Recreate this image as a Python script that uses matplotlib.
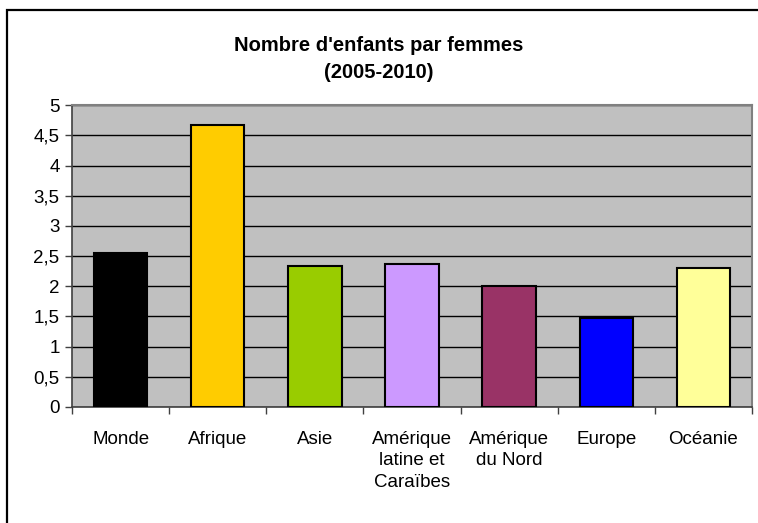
import matplotlib.pyplot as plt
from matplotlib.patches import Rectangle

regions = ["Monde", "Afrique", "Asie", "Amérique\nlatine et\nCaraïbes",
           "Amérique\ndu Nord", "Europe", "Océanie"]
children = [2.56, 4.67, 2.34, 2.37, 2.00, 1.47, 2.31]
colors = ["#000000", "#FFCC00", "#99CC00", "#CC99FF", "#993366", "#0000FF", "#FFFF99"]
y_ticks = [0, 0.5, 1, 1.5, 2, 2.5, 3, 3.5, 4, 4.5, 5]

plt.rcParams['font.family'] = ['Liberation Sans', 'DejaVu Sans']

fig = plt.figure(figsize=(7.58, 5.23), dpi=100)
ax = fig.add_axes([0.095, 0.2218, 0.897, 0.5769])
ax.set_facecolor("#C0C0C0")

x = list(range(len(regions)))
ax.bar(x, children, width=0.55, color=colors, edgecolor="black", linewidth=1.5, zorder=3)

ax.set_xlim(-0.5, len(regions) - 0.5)
ax.set_ylim(0, 5)
ax.set_yticks(y_ticks)
ax.set_yticklabels([f"{t:g}".replace(".", ",") for t in y_ticks], fontsize=13.5)
ax.yaxis.grid(True, color="black", linewidth=1, zorder=1)
ax.set_axisbelow(True)

# category labels centred, ticks on the boundaries
ax.set_xticks(x)
ax.set_xticklabels(regions, fontsize=13.5, linespacing=1.35, va="top")
ax.tick_params(axis="x", which="major", length=0, pad=17)
ax.set_xticks([i - 0.5 for i in range(len(regions) + 1)], minor=True)
ax.tick_params(axis="x", which="minor", length=5, width=1, color="#404040")
ax.tick_params(axis="y", length=5, width=1, color="#404040", pad=4)

for side in ["top", "right"]:
    ax.spines[side].set_color("#808080")
    ax.spines[side].set_linewidth(1.5)
for side in ["left", "bottom"]:
    ax.spines[side].set_color("#404040")
    ax.spines[side].set_linewidth(1.2)

fig.text(0.5, 0.887, "Nombre d'enfants par femmes\n(2005-2010)", ha="center", va="center",
         fontsize=14.5, fontweight="bold", linespacing=1.58)

# outer frame of the chart
fig.patches.append(Rectangle((7 / 758, -0.05), 1.1, 1 - 10 / 523 + 0.05, transform=fig.transFigure,
                             fill=False, edgecolor="black", linewidth=1.6))

fig.savefig("out.png", dpi=100)
